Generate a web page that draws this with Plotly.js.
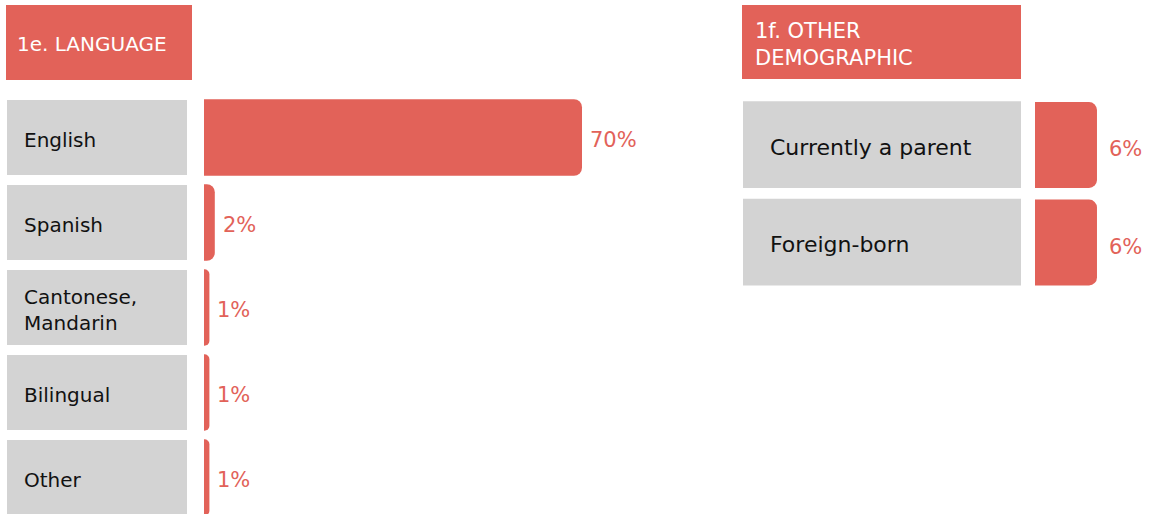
<!DOCTYPE html>
<html>
<head>
<meta charset="utf-8">
<script src="https://cdn.plot.ly/plotly-3.0.1.min.js"></script>
<style>html,body{margin:0;padding:0;background:#fff;}#chart{width:1149px;height:514px;}</style>
</head>
<body>
<div id="chart"></div>
<script>
// ---- data ----
const langCategories = ['English', 'Spanish', 'Cantonese, Mandarin', 'Bilingual', 'Other'];
const langLabels = ['English', 'Spanish', 'Cantonese,<br>Mandarin', 'Bilingual', 'Other'];
const langValues = [70, 2, 1, 1, 1];
const langTitle = '1e. LANGUAGE';

const demoCategories = ['Currently a parent', 'Foreign-born'];
const demoValues = [6, 6];
const demoTitle = '1f. OTHER<br>DEMOGRAPHIC';

// ---- styling ----
const RED = '#E26259';
const GRAY = '#D3D3D3';
const FONT = 'DejaVu Sans, sans-serif';
const W = 1149, H = 514;
const px = x => x / W;
const py = y => 1 - y / H;

const traces = [
  {
    type: 'bar', orientation: 'h',
    y: langCategories, x: langValues,
    xaxis: 'x', yaxis: 'y',
    marker: {color: RED, cornerradius: 8},
    width: 0.9, hoverinfo: 'skip'
  },
  {
    type: 'bar', orientation: 'h',
    y: demoCategories, x: demoValues,
    xaxis: 'x2', yaxis: 'y2',
    marker: {color: RED, cornerradius: 8},
    width: 0.88, hoverinfo: 'skip'
  }
];

const shapes = [];
const annotations = [];

// headers
shapes.push({type: 'rect', xref: 'paper', yref: 'paper', x0: px(6), x1: px(192), y0: py(80), y1: py(5), fillcolor: RED, line: {width: 0}, layer: 'below'});
shapes.push({type: 'rect', xref: 'paper', yref: 'paper', x0: px(742), x1: px(1021), y0: py(79), y1: py(5), fillcolor: RED, line: {width: 0}, layer: 'below'});
annotations.push({xref: 'paper', yref: 'paper', x: px(15), y: py(44), xanchor: 'left', yanchor: 'middle', align: 'left', showarrow: false, text: langTitle, font: {family: FONT, size: 20, color: '#fff'}});
annotations.push({xref: 'paper', yref: 'paper', x: px(753), y: py(44), xanchor: 'left', yanchor: 'middle', align: 'left', showarrow: false, text: demoTitle, font: {family: FONT, size: 21, color: '#fff'}});

// language rows
langCategories.forEach((c, i) => {
  shapes.push({type: 'rect', xref: 'paper', yref: 'y', x0: px(7), x1: px(187), y0: i - 0.44, y1: i + 0.44, fillcolor: GRAY, line: {width: 0}, layer: 'below'});
  annotations.push({xref: 'paper', yref: 'y', x: px(22), y: c, yshift: -2, xanchor: 'left', yanchor: 'middle', align: 'left', showarrow: false, text: langLabels[i], font: {family: FONT, size: 20, color: '#111'}});
  annotations.push({xref: 'x', yref: 'y', x: langValues[i], y: c, xanchor: 'left', yanchor: 'middle', xshift: 6, yshift: -2, showarrow: false, text: langValues[i] + '%', font: {family: FONT, size: 21, color: RED}});
});

// demographic rows
demoCategories.forEach((c, i) => {
  shapes.push({type: 'rect', xref: 'paper', yref: 'y2', x0: px(743), x1: px(1021), y0: i - 0.45, y1: i + 0.44, fillcolor: GRAY, line: {width: 0}, layer: 'below'});
  annotations.push({xref: 'paper', yref: 'y2', x: px(768), y: c, yshift: -2, xanchor: 'left', yanchor: 'middle', align: 'left', showarrow: false, text: c, font: {family: FONT, size: 22, color: '#111'}});
  annotations.push({xref: 'x2', yref: 'y2', x: demoValues[i], y: c, xanchor: 'left', yanchor: 'middle', xshift: 10, yshift: -4, showarrow: false, text: demoValues[i] + '%', font: {family: FONT, size: 21, color: RED}});
});

const hidden = {showgrid: false, zeroline: false, showticklabels: false, showline: false, ticks: '', fixedrange: true};

const layout = {
  width: W, height: H,
  margin: {l: 0, r: 0, t: 0, b: 0},
  paper_bgcolor: '#fff', plot_bgcolor: 'rgba(0,0,0,0)',
  showlegend: false,
  xaxis: Object.assign({domain: [px(204), px(700)], range: [0, 496 / 5.4], anchor: 'y'}, hidden),
  yaxis: Object.assign({domain: [0, py(95)], range: [-0.5 + 419 / 85, -0.5], type: 'category', anchor: 'x'}, hidden),
  xaxis2: Object.assign({domain: [px(1035), 1], range: [0, 114 / 10.33], anchor: 'y2'}, hidden),
  yaxis2: Object.assign({domain: [py(291.25), py(96.25)], range: [1.5, -0.5], type: 'category', anchor: 'x2'}, hidden),
  shapes: shapes,
  annotations: annotations
};

Plotly.newPlot('chart', traces, layout, {displayModeBar: false, staticPlot: true});
</script>
</body>
</html>
